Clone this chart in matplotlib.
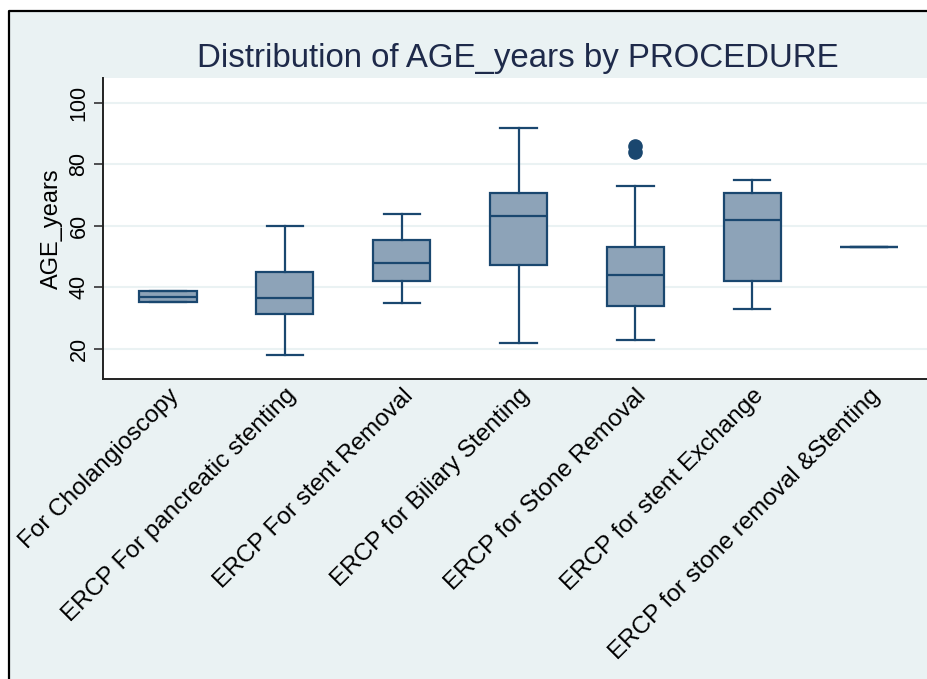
import matplotlib
matplotlib.use("Agg")
import matplotlib.pyplot as plt
from matplotlib.patches import Rectangle
from matplotlib.lines import Line2D

plt.rcParams['font.family'] = ['Liberation Sans', 'DejaVu Sans']

# Box plot summary of AGE_years per procedure
procedures = [
    "For Cholangioscopy",
    "ERCP For pancreatic stenting",
    "ERCP For stent Removal",
    "ERCP for Biliary Stenting",
    "ERCP for Stone Removal",
    "ERCP for stent Exchange",
    "ERCP for stone removal &Stenting",
]
whislo = [35.3, 18, 35, 22, 23, 33, 53]
q1 = [35.3, 31.3, 42.2, 47.3, 34.1, 42.2, 53]
median = [36.8, 36.5, 48.0, 63.1, 44.0, 61.9, 53]
q3 = [38.7, 45.1, 55.5, 70.6, 53.2, 70.6, 53]
whishi = [38.7, 60, 64, 92, 73, 75, 53]
outliers = [[], [], [], [], [84, 86], [], []]
yticks = [20, 40, 60, 80, 100]

navy = '#1a476f'
fill = '#8da3b8'
bg = '#eaf2f3'

fig = plt.figure(figsize=(9.28, 6.79), dpi=100)
fig.patch.set_facecolor('white')

# graph region (screenshot is cropped on right/bottom, so only left/top edges show)
W, H = 928, 679
x0, y1 = 9 / W, 1 - 11 / H
fig.add_artist(Rectangle((x0, -0.05), 1.1, y1 + 0.05, transform=fig.transFigure,
                         facecolor=bg, edgecolor='none', zorder=0))
fig.add_artist(Line2D([x0, x0, 1.1], [-0.05, y1, y1], transform=fig.transFigure,
                      color='black', linewidth=1.6, zorder=0.5))

ax = fig.add_axes([103 / W, 1 - 379 / H, 1 - 103 / W, (379 - 78) / H])
ax.set_facecolor('white')

stats = []
for i in range(len(procedures)):
    stats.append(dict(med=median[i], q1=q1[i], q3=q3[i], whislo=whislo[i],
                      whishi=whishi[i], fliers=outliers[i], label=procedures[i]))

positions = list(range(1, len(procedures) + 1))
ax.bxp(stats, positions=positions, widths=0.49, patch_artist=True,
       showfliers=True, capwidths=0.31,
       boxprops=dict(facecolor=fill, edgecolor=navy, linewidth=1.6),
       medianprops=dict(color=navy, linewidth=1.6),
       whiskerprops=dict(color=navy, linewidth=1.6),
       capprops=dict(color=navy, linewidth=1.6),
       flierprops=dict(marker='o', markerfacecolor=navy, markeredgecolor=navy,
                       markersize=9.5))

ax.set_xlim(0.444, 7.504)
ax.set_ylim(10.2, 108.1)
ax.set_yticks(yticks)
ax.set_yticklabels([str(t) for t in yticks], rotation=90, va='center', fontsize=15.5)
ax.yaxis.grid(True, color=bg, linewidth=1.5)
ax.set_axisbelow(True)

ax.set_xticks(positions)
ax.set_xticklabels(procedures, rotation=45, ha='right', rotation_mode='anchor',
                   fontsize=17.5)
ax.tick_params(axis='x', length=0, pad=4)
ax.tick_params(axis='y', length=6.5, width=1.2, pad=3.2, color='#333333')

for side in ['top', 'right']:
    ax.spines[side].set_visible(False)
for side in ['left', 'bottom']:
    ax.spines[side].set_color('#222222')
    ax.spines[side].set_linewidth(1.4)

ax.set_ylabel('AGE_years', fontsize=17, labelpad=4)
fig.text(517.5 / W, 1 - 67 / H, 'Distribution of AGE_years by PROCEDURE',
         ha='center', va='baseline', fontsize=23.8, color='#1e2a4a')

fig.savefig('out.png', dpi=100)
